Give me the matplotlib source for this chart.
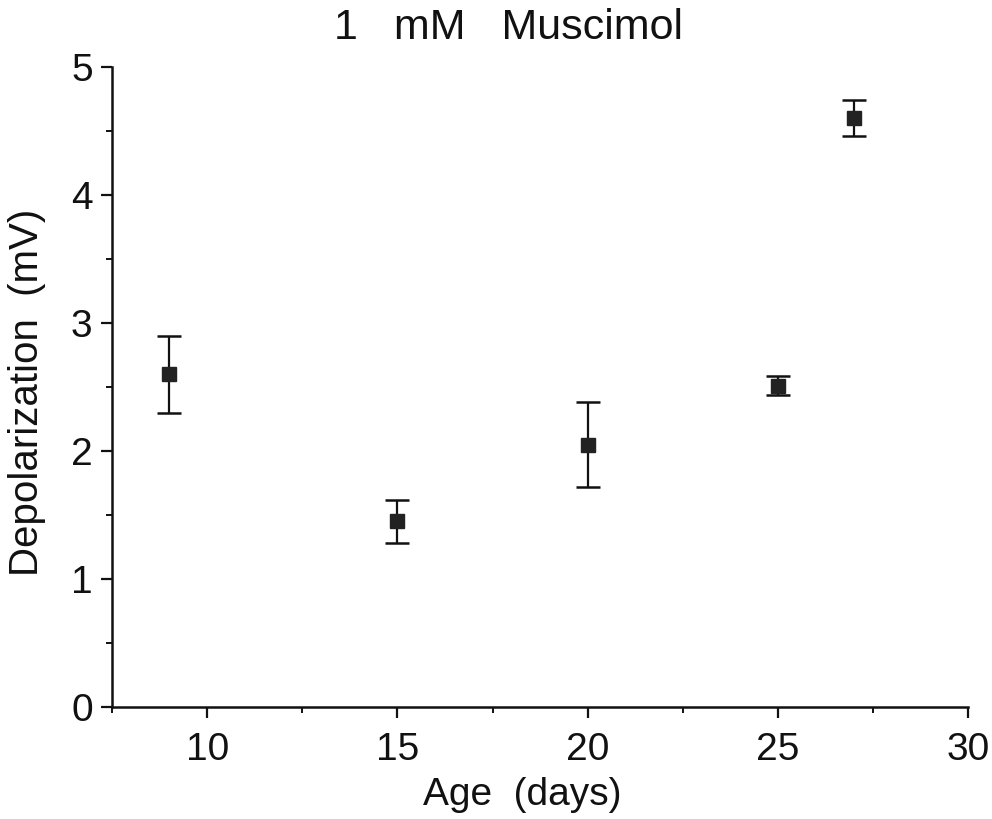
import numpy as np
import matplotlib
matplotlib.use("Agg")
from matplotlib import pyplot as plt
from matplotlib.ticker import MultipleLocator

# values
age = [9, 15, 20, 25, 27]
depol = [2.60, 1.45, 2.05, 2.51, 4.60]
err = [0.30, 0.17, 0.33, 0.075, 0.14]

plt.rcParams['font.family'] = ['Liberation Sans', 'DejaVu Sans']

fig = plt.figure(figsize=(9.92, 8.19), dpi=100)
ax = fig.add_axes([0.113, 0.137, 0.863, 0.781])

ax.errorbar(age, depol, yerr=err, fmt='s', color='#222222', ecolor='#111111',
            markersize=10, elinewidth=1.6, capsize=8.5, capthick=1.8)

ax.set_xlim(7.5, 30)
ax.set_ylim(0, 5)
ax.xaxis.set_major_locator(MultipleLocator(5))
ax.xaxis.set_minor_locator(MultipleLocator(2.5))
ax.yaxis.set_major_locator(MultipleLocator(1))
ax.yaxis.set_minor_locator(MultipleLocator(0.5))

for s in ['top', 'right']:
    ax.spines[s].set_visible(False)
for s in ['left', 'bottom']:
    ax.spines[s].set_linewidth(1.8)
    ax.spines[s].set_color('#111111')

ax.tick_params(which='major', length=8, width=1.6, labelsize=28, colors='#111111')
ax.tick_params(which='minor', length=4.5, width=1.4, colors='#111111')
ax.tick_params(axis='x', which='major', pad=10)
ax.tick_params(axis='y', which='major', pad=6)

fig.text(508 / 992, 1 - 28 / 819, '1   mM   Muscimol', ha='center', va='center',
         fontsize=31, color='#111111')
fig.text(522 / 992, 1 - 795 / 819, 'Age  (days)', ha='center', va='center',
         fontsize=28, color='#111111')
fig.text(27 / 992, 1 - 392 / 819, 'Depolarization  (mV)', ha='center', va='center',
         rotation=90, fontsize=29, color='#111111')

fig.savefig('out.png', dpi=100)
